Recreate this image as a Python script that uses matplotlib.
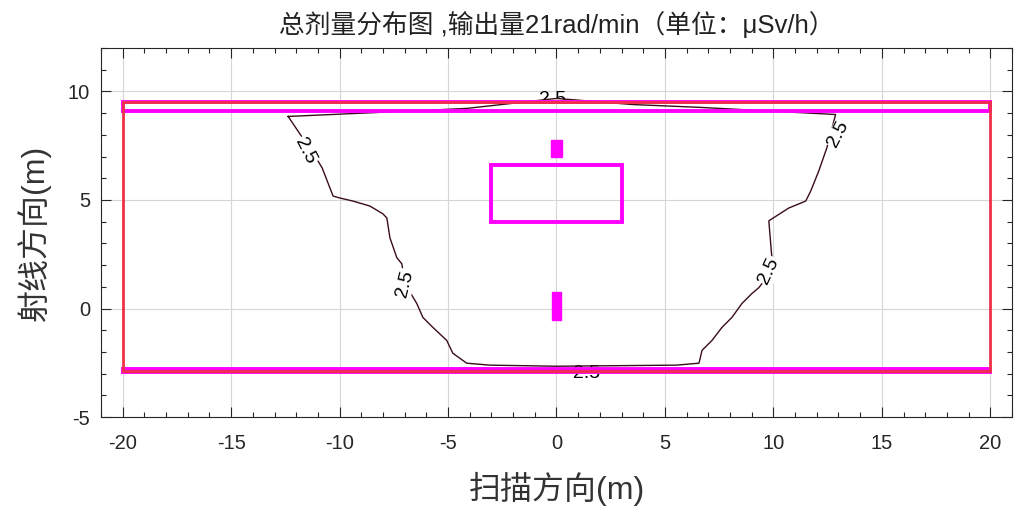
import numpy as np
import matplotlib
matplotlib.use("Agg")
import matplotlib.pyplot as plt
from matplotlib.patches import Rectangle
from matplotlib.ticker import MultipleLocator

plt.rcParams['font.family'] = ['Liberation Sans', 'Noto Sans CJK SC', 'DejaVu Sans']
plt.rcParams['axes.unicode_minus'] = False

# 2.5 μSv/h 等值线 (闭合)
contour_x = [-12.37, -11.82, -11.13, -10.80, -10.30, -9.98, -9.38, -8.60, -8.00, -7.82,
             -7.68, -7.36, -7.13, -6.99, -6.44, -6.16, -5.70, -5.06, -4.78, -4.14,
             -3.08, 0.0, 5.52, 6.57,
             6.71, 7.17, 7.63, 8.09, 8.55, 9.01, 9.33, 9.93, 9.93, 9.79,
             10.71, 11.49, 11.72, 12.09, 12.46, 12.87,
             6.57, 3.49, 0.0, -4.14, -7.20, -12.37]
contour_y = [8.85, 8.03, 7.02, 6.47, 5.18, 5.09, 4.95, 4.72, 4.36, 4.17,
             3.26, 2.34, 2.06, 1.15, 0.23, -0.41, -0.87, -1.47, -2.06, -2.52,
             -2.61, -2.66, -2.61, -2.52,
             -1.93, -1.47, -0.87, -0.41, 0.23, 0.69, 0.96, 1.74, 2.34, 4.04,
             4.63, 4.95, 5.41, 6.33, 7.39, 8.94,
             9.27, 9.40, 9.68, 9.22, 9.08, 8.85]

# 等值线标注: x, y, 旋转角
label_x = [-11.6, -7.0, 9.8, 13.0, 1.4, -0.2]
label_y = [7.25, 1.15, 1.74, 8.03, -3.0, 9.65]
label_rot = [-63, 76, 65, 63, 0, 0]
label_box = [True, True, True, True, False, False]

# 区域 (x0, y0, 宽, 高)
room = (-20, -2.9, 40, 12.4)
top_band = (-20, 9.12, 40, 0.38)
bottom_band = (-20, -2.92, 40, 0.14)
inner_box = (-3, 4.0, 6, 2.6)
src_upper = (-0.25, 7.0, 0.5, 0.75)
src_lower = (-0.22, -0.55, 0.44, 1.3)

magenta = '#ff00ff'
red = '#ee3048'

fig = plt.figure(figsize=(10.14, 5.17), dpi=100)
ax = fig.add_axes([0.0996, 0.1934, 0.8984, 0.7136])

ax.plot(contour_x, contour_y, color='#3a0d1a', lw=1.0, zorder=3)
for x, y, r, b in zip(label_x, label_y, label_rot, label_box):
    kw = dict(bbox=dict(facecolor='white', edgecolor='none', pad=0.5)) if b else {}
    ax.text(x, y, '2.5', rotation=r, ha='center', va='center', fontsize=14,
            color='black', zorder=4 if b else 2, rotation_mode='anchor', **kw)

for r in (top_band, bottom_band, inner_box):
    ax.add_patch(Rectangle(r[:2], r[2], r[3], fill=False, ec=magenta, lw=2.8, zorder=5))
for r in (src_upper, src_lower):
    ax.add_patch(Rectangle(r[:2], r[2], r[3], fc=magenta, ec=magenta, lw=1, zorder=5))
ax.add_patch(Rectangle(room[:2], room[2], room[3], fill=False, ec=red, lw=2.0, zorder=6))

ax.set_xlim(-21, 21)
ax.set_ylim(-5, 12)
ax.set_xticks([-20, -15, -10, -5, 0, 5, 10, 15, 20])
ax.set_yticks([-5, 0, 5, 10])
ax.xaxis.set_minor_locator(MultipleLocator(1))
ax.yaxis.set_minor_locator(MultipleLocator(1))
ax.tick_params(which='both', direction='in', top=True, right=True, colors='#262626',
               labelsize=14.5, width=0.8)
ax.tick_params(which='major', length=7)
ax.tick_params(axis='x', which='major', pad=12)
ax.tick_params(axis='y', which='major', pad=8)
ax.tick_params(which='minor', length=3.5)
ax.grid(True, which='major', color='#d6d6d6', lw=0.8)
ax.set_axisbelow(True)
for s in ax.spines.values():
    s.set_color('#262626')
    s.set_linewidth(0.8)

ax.set_title('总剂量分布图 ,输出量21rad/min（单位：μSv/h）', fontsize=18.5, color='#222222', pad=11)
ax.set_xlabel('扫描方向(m)', fontsize=23, color='#333333', labelpad=14)
ax.set_ylabel('射线方向(m)', fontsize=23, color='#333333', labelpad=12)

fig.savefig('out.png', dpi=100)
